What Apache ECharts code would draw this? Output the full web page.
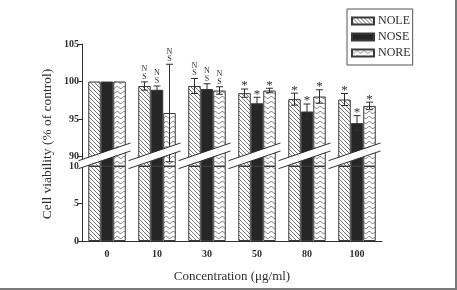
<!DOCTYPE html>
<html>
<head>
<meta charset="utf-8">
<script src="https://cdn.jsdelivr.net/npm/echarts@6/dist/echarts.min.js"></script>
<style>
  html, body { margin: 0; padding: 0; background: #fff; }
  #chart {
    width: 455px; height: 288px;
    border-right: 2px solid #7a7a7a;
    border-bottom: 2px solid #7a7a7a;
  }
</style>
</head>
<body>
<div id="chart"></div>
<script>
const categories = ['0', '10', '30', '50', '80', '100'];
const seriesNames = ['NOLE', 'NOSE', 'NORE'];

const noleValues = [100, 99.4, 99.4, 98.45, 97.65, 97.6];
const noleErrors = [0, 0.55, 1.0, 0.55, 0.8, 0.8];
const noseValues = [100, 98.9, 99.0, 97.1, 96.0, 94.45];
const noseErrors = [0, 0.5, 0.7, 0.8, 1.0, 1.0];
const noreValues = [100, 95.8, 98.8, 98.8, 98.0, 96.75];
const noreErrors = [0, 6.5, 0.5, 0.3, 0.9, 0.5];

// significance marks, same for every series in a group
const marks = ['', 'NS', 'NS', '*', '*', '*'];

const upperTicks = [90, 95, 100, 105];
const lowerTicks = [0, 5, 10];
const breakValue = 10;

const FONT = '"Liberation Serif", "DejaVu Serif", serif';
const INK = '#2e2e2e';

function hatchPattern() {
  const c = document.createElement('canvas');
  c.width = 4; c.height = 4;
  const ctx = c.getContext('2d');
  ctx.fillStyle = '#fff';
  ctx.fillRect(0, 0, 4, 4);
  ctx.strokeStyle = '#555';
  ctx.lineWidth = 0.8;
  ctx.beginPath();
  ctx.moveTo(-1, -1); ctx.lineTo(5, 5);
  ctx.moveTo(-1, 3); ctx.lineTo(1, 5);
  ctx.moveTo(3, -1); ctx.lineTo(5, 1);
  ctx.stroke();
  return { image: c, repeat: 'repeat' };
}

function wavePattern() {
  const c = document.createElement('canvas');
  c.width = 7; c.height = 5;
  const ctx = c.getContext('2d');
  ctx.fillStyle = '#fff';
  ctx.fillRect(0, 0, 7, 5);
  ctx.strokeStyle = '#555';
  ctx.lineWidth = 0.8;
  ctx.beginPath();
  for (let x = 0; x <= 7; x += 0.5) {
    const y = 2.5 + Math.sin((x / 7) * Math.PI * 2) * 1;
    if (x === 0) ctx.moveTo(x, y); else ctx.lineTo(x, y);
  }
  ctx.stroke();
  return { image: c, repeat: 'repeat' };
}

const fills = [hatchPattern(), '#262626', wavePattern()];
const valueSets = [noleValues, noseValues, noreValues];
const errorSets = [noleErrors, noseErrors, noreErrors];

const chart = echarts.init(document.getElementById('chart'), null, { renderer: 'canvas' });

const barStyle = (i) => ({ color: fills[i], borderColor: '#3a3a3a', borderWidth: 1 });

const series = [];
seriesNames.forEach((name, i) => {
  series.push({
    name, type: 'bar', xAxisIndex: 0, yAxisIndex: 0,
    barWidth: '25%', barGap: '0%',
    itemStyle: barStyle(i),
    data: valueSets[i],
    z: 2,
  });
});
seriesNames.forEach((name, i) => {
  series.push({
    name, type: 'bar', xAxisIndex: 1, yAxisIndex: 1,
    barWidth: '25%', barGap: '0%',
    itemStyle: barStyle(i),
    data: valueSets[i].map((v) => Math.min(v, breakValue)),
    z: 2,
  });
});

// error bars + significance labels
seriesNames.forEach((name, i) => {
  series.push({
    type: 'custom', xAxisIndex: 0, yAxisIndex: 0, z: 6, silent: true,
    data: categories.map((c, k) => [k, valueSets[i][k], errorSets[i][k]]),
    renderItem(params, api) {
      const k = api.value(0), v = api.value(1), e = api.value(2);
      const bw = api.size([1, 0])[0] * 0.25;
      const x = api.coord([k, v])[0] + (i - 1) * bw;
      const top = api.coord([k, v + e])[1];
      const bot = api.coord([k, v - e])[1];
      const children = [];
      const ls = { stroke: INK, lineWidth: 1 };
      if (e > 0) {
        children.push({ type: 'line', shape: { x1: x, y1: top, x2: x, y2: bot }, style: ls });
        children.push({ type: 'line', shape: { x1: x - 3.5, y1: top, x2: x + 3.5, y2: top }, style: ls });
        children.push({ type: 'line', shape: { x1: x - 3.5, y1: bot, x2: x + 3.5, y2: bot }, style: ls });
      }
      const m = marks[k];
      if (m === 'NS') {
        children.push({ type: 'text', x, y: top - 1.5,
          style: { text: 'N\nS', font: '8px ' + FONT, fill: INK, align: 'center', verticalAlign: 'bottom', lineHeight: 7.5 } });
      } else if (m === '*') {
        children.push({ type: 'text', x, y: top + 3.5,
          style: { text: '*', font: '13px ' + FONT, fill: INK, align: 'center', verticalAlign: 'bottom' } });
      }
      return { type: 'group', children };
    },
  });
});

// axis break band across each group
series.push({
  type: 'custom', xAxisIndex: 1, yAxisIndex: 1, z: 8, silent: true,
  data: categories.map((c, k) => [k, breakValue]),
  renderItem(params, api) {
    const p = api.coord([api.value(0), api.value(1)]);
    const cw = api.size([1, 0])[0];
    const xl = p[0] - cw * 0.57, xr = p[0] + cw * 0.47;
    const slope = 0.34, half = 4;
    const yc = p[1] - 11;
    const yl = yc + (p[0] - xl) * slope, yr = yc - (xr - p[0]) * slope;
    return {
      type: 'group',
      children: [
        { type: 'polygon', shape: { points: [[xl, yl - half], [xr, yr - half], [xr, yr + half], [xl, yl + half]] },
          style: { fill: '#fff', stroke: null } },
        { type: 'line', shape: { x1: xl, y1: yl - half, x2: xr, y2: yr - half }, style: { stroke: INK, lineWidth: 1 } },
        { type: 'line', shape: { x1: xl, y1: yl + half, x2: xr, y2: yr + half }, style: { stroke: INK, lineWidth: 1 } },
      ],
    };
  },
});

const axisLabelStyle = { fontFamily: FONT, fontSize: 10, fontWeight: 'bold', color: INK };

chart.setOption({
  animation: false,
  legend: {
    data: seriesNames,
    orient: 'vertical',
    left: 347, top: 9,
    itemWidth: 22, itemHeight: 7, itemGap: 4,
    padding: [6, 2, 6, 4],
    borderColor: '#555', borderWidth: 1,
    icon: 'rect',
    textStyle: { fontFamily: FONT, fontSize: 12, color: INK, padding: [0, 0, 0, -1] },
  },
  grid: [
    { left: 82, top: 44, width: 300, height: 122 },
    { left: 82, top: 166, width: 300, height: 75 },
  ],
  xAxis: [
    { type: 'category', gridIndex: 0, data: categories, show: false },
    {
      type: 'category', gridIndex: 1, data: categories,
      axisLine: { lineStyle: { color: INK, width: 1 } },
      axisTick: { show: false },
      axisLabel: { ...axisLabelStyle, margin: 8 },
      name: 'Concentration (μg/ml)', nameLocation: 'middle', nameGap: 29,
      nameTextStyle: { fontFamily: FONT, fontSize: 13, color: INK },
    },
  ],
  yAxis: [
    {
      type: 'value', gridIndex: 0,
      min: 105 - 122 / 7.5, max: 105,
      splitLine: { show: false },
      axisLine: { show: true, lineStyle: { color: INK } },
      axisTick: { show: true, length: 4, customValues: upperTicks, lineStyle: { color: INK } },
      axisLabel: { ...axisLabelStyle, margin: 3, customValues: upperTicks },
    },
    {
      type: 'value', gridIndex: 1, min: 0, max: 10, interval: 5,
      splitLine: { show: false },
      axisLine: { show: true, lineStyle: { color: INK } },
      axisTick: { show: true, length: 4, lineStyle: { color: INK } },
      axisLabel: { ...axisLabelStyle, margin: 3, customValues: lowerTicks },
    },
  ],
  graphic: [{
    type: 'text', left: 40, top: 'middle', z: 10,
    rotation: Math.PI / 2,
    style: { text: 'Cell viability (% of control)', font: '13.5px ' + FONT, fill: INK },
  }],
  series,
});
</script>
</body>
</html>
